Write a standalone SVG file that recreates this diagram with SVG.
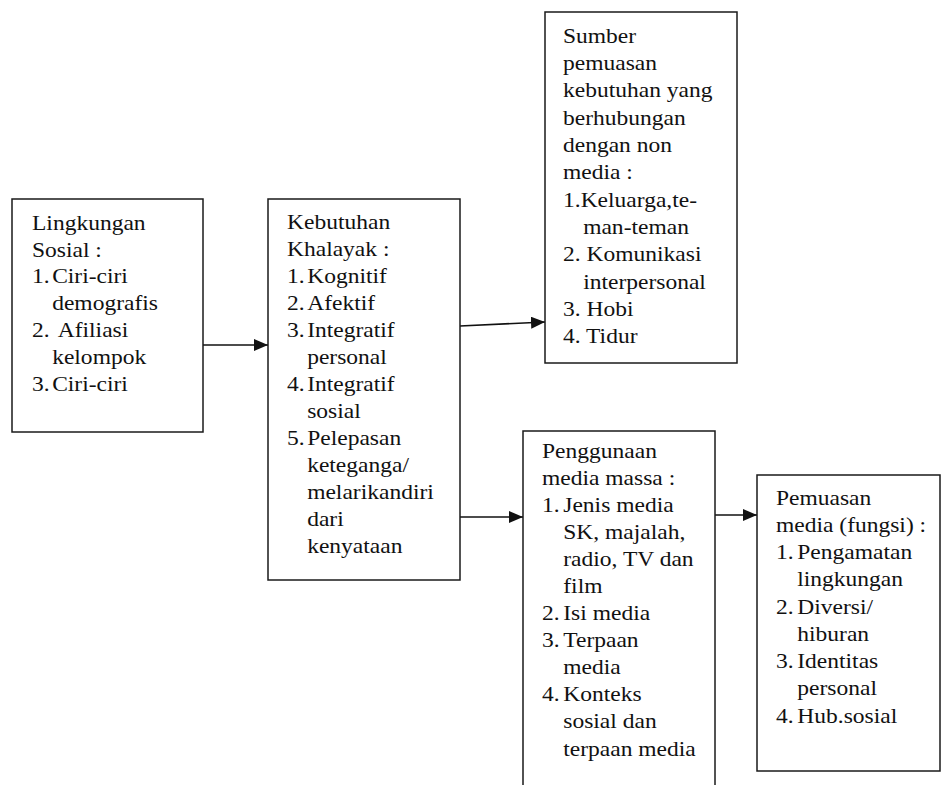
<svg xmlns="http://www.w3.org/2000/svg" width="942" height="785" viewBox="0 0 942 785">
<style>
.box{fill:#fff;stroke:#1a1a1a;stroke-width:1.5}
.t{font-family:'Liberation Serif','DejaVu Serif',serif;font-size:21px;fill:#111}
.c{stroke:#111;stroke-width:1.6;fill:none}
</style>
<defs>
<marker id="ah" markerUnits="userSpaceOnUse" markerWidth="14" markerHeight="12" refX="14" refY="6" orient="auto">
<path d="M0,0 L14,6 L0,12 Z" fill="#111"/>
</marker>
</defs>
<rect width="942" height="785" fill="#fff"/>
<g id="connectors">
<line class="c" x1="203" y1="345" x2="268" y2="345" marker-end="url(#ah)"/>
<line class="c" x1="460" y1="326" x2="545" y2="322" marker-end="url(#ah)"/>
<line class="c" x1="460" y1="517" x2="523" y2="517" marker-end="url(#ah)"/>
<line class="c" x1="715" y1="515" x2="757" y2="515" marker-end="url(#ah)"/>
</g>
<g id="lingkungan">
<rect class="box" x="12" y="199" width="191" height="233"/>
<g transform="translate(32 0) scale(1.12 1)">
<text class="t" font-family="Liberation Serif, serif">
<tspan x="0" y="230">Lingkungan</tspan>
<tspan x="0" y="257">Sosial :</tspan>
<tspan x="0" y="283">1.</tspan><tspan x="18" y="283">Ciri-ciri</tspan>
<tspan x="18" y="310">demografis</tspan>
<tspan x="0" y="337">2.</tspan><tspan x="23" y="337">Afiliasi</tspan>
<tspan x="18" y="364">kelompok</tspan>
<tspan x="0" y="391">3.</tspan><tspan x="18" y="391">Ciri-ciri</tspan>
</text>
</g>
</g>
<g id="kebutuhan">
<rect class="box" x="268" y="199" width="192" height="381"/>
<g transform="translate(287 0) scale(1.12 1)">
<text class="t">
<tspan x="0" y="229">Kebutuhan</tspan>
<tspan x="0" y="256">Khalayak :</tspan>
<tspan x="0" y="283">1.</tspan><tspan x="18" y="283">Kognitif</tspan>
<tspan x="0" y="310">2.</tspan><tspan x="18" y="310">Afektif</tspan>
<tspan x="0" y="337">3.</tspan><tspan x="18" y="337">Integratif</tspan>
<tspan x="18" y="364">personal</tspan>
<tspan x="0" y="391">4.</tspan><tspan x="18" y="391">Integratif</tspan>
<tspan x="18" y="418">sosial</tspan>
<tspan x="0" y="445">5.</tspan><tspan x="18" y="445">Pelepasan</tspan>
<tspan x="18" y="472">keteganga/</tspan>
<tspan x="18" y="499">melarikandiri</tspan>
<tspan x="18" y="526">dari</tspan>
<tspan x="18" y="553">kenyataan</tspan>
</text>
</g>
</g>
<g id="sumber">
<rect class="box" x="545" y="12" width="192" height="351"/>
<g transform="translate(563 0) scale(1.12 1)">
<text class="t">
<tspan x="0" y="43">Sumber</tspan>
<tspan x="0" y="70">pemuasan</tspan>
<tspan x="0" y="97">kebutuhan yang</tspan>
<tspan x="0" y="125">berhubungan</tspan>
<tspan x="0" y="152">dengan non</tspan>
<tspan x="0" y="179">media :</tspan>
<tspan x="0" y="207">1.Keluarga,te-</tspan>
<tspan x="18" y="234">man-teman</tspan>
<tspan x="0" y="261">2. Komunikasi</tspan>
<tspan x="18" y="289">interpersonal</tspan>
<tspan x="0" y="316">3. Hobi</tspan>
<tspan x="0" y="343">4. Tidur</tspan>
</text>
</g>
</g>
<g id="penggunaan">
<rect class="box" x="523" y="431" width="192" height="370"/>
<g transform="translate(542 0) scale(1.12 1)">
<text class="t">
<tspan x="0" y="458">Penggunaan</tspan>
<tspan x="0" y="485">media massa :</tspan>
<tspan x="0" y="512">1.</tspan><tspan x="19" y="512">Jenis media</tspan>
<tspan x="19" y="539">SK, majalah,</tspan>
<tspan x="19" y="566">radio, TV dan</tspan>
<tspan x="19" y="593">film</tspan>
<tspan x="0" y="620">2.</tspan><tspan x="19" y="620">Isi media</tspan>
<tspan x="0" y="647">3.</tspan><tspan x="19" y="647">Terpaan</tspan>
<tspan x="19" y="674">media</tspan>
<tspan x="0" y="701">4.</tspan><tspan x="19" y="701">Konteks</tspan>
<tspan x="19" y="728">sosial dan</tspan>
<tspan x="19" y="756">terpaan media</tspan>
</text>
</g>
</g>
<g id="pemuasan">
<rect class="box" x="757" y="475" width="183" height="296"/>
<g transform="translate(776 0) scale(1.12 1)">
<text class="t">
<tspan x="0" y="505">Pemuasan</tspan>
<tspan x="0" y="532">media (fungsi) :</tspan>
<tspan x="0" y="559">1.</tspan><tspan x="19" y="559">Pengamatan</tspan>
<tspan x="19" y="586">lingkungan</tspan>
<tspan x="0" y="614">2.</tspan><tspan x="19" y="614">Diversi/</tspan>
<tspan x="19" y="641">hiburan</tspan>
<tspan x="0" y="668">3.</tspan><tspan x="19" y="668">Identitas</tspan>
<tspan x="19" y="695">personal</tspan>
<tspan x="0" y="723">4.</tspan><tspan x="19" y="723">Hub.sosial</tspan>
</text>
</g>
</g>
</svg>
